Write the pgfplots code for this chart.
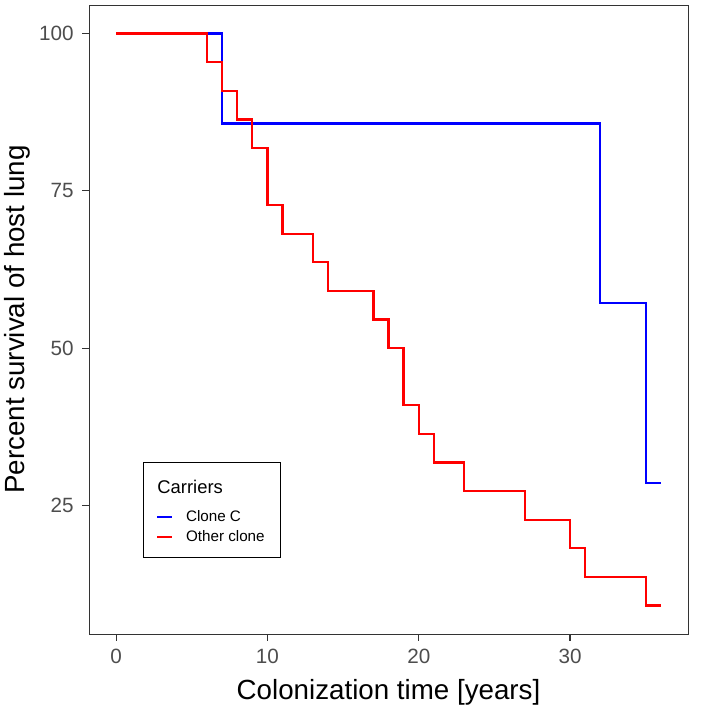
\documentclass[border=0pt]{standalone}
\usepackage{pgfplots}
\pgfplotsset{compat=1.18}
\usepackage{fontspec}
\setmainfont{Liberation Sans}
\definecolor{tickgray}{HTML}{4D4D4D}
\definecolor{tickmark}{HTML}{333333}
\definecolor{cblue}{RGB}{0,0,255}
\definecolor{cred}{RGB}{255,0,0}
\begin{document}
\begin{tikzpicture}[x=1pt,y=1pt]
\begin{axis}[
  name=ax,
  scale only axis,
  width=449.25pt, height=471.75pt,
  xmin=-1.8, xmax=37.8, ymin=4.55, ymax=104.55,
  xtick={0,10,20,30}, ytick={25,50,75,100},
  /pgf/number format/assume math mode=true,
  tick label style={font=\fontsize{15.5}{18}\selectfont, text=tickgray},
  xticklabel style={yshift=-3pt},
  yticklabel style={xshift=-3pt},
  tick align=outside, tick pos=left,
  major tick length=5pt,
  every tick/.style={draw=tickmark, line width=0.8pt},
  axis line style={draw=black!80, line width=0.6pt},
  xlabel={Colonization time [years]}, ylabel={Percent survival of host lung},
  label style={font=\fontsize{20.8}{24}\selectfont},
  xlabel style={yshift=-5pt}, ylabel style={yshift=0pt},
  legend style={at={(axis cs:1.78,31.96)}, anchor=north west, draw=black, line width=0.6pt,
    font=\fontsize{11.4}{13}\selectfont, inner xsep=9.5pt, inner ysep=8.5pt, row sep=1pt},
  legend cell align=left,
  legend image code/.code={\draw[#1, line width=1.4pt] (0pt,0pt) -- (11pt,0pt);},
]
\addlegendimage{empty legend}
\addlegendentry[text height=13pt, text depth=8pt, font=\fontsize{13.8}{16}\selectfont]{\hspace{-13.5pt}Carriers}
\addplot[const plot, draw=cblue, line width=1.7pt] coordinates {
(0,100) (7,85.71) (32,57.14) (35,28.57) (36,28.57)};
\addlegendentry{\hspace{8pt}Clone C}
\addplot[const plot, draw=cred, line width=1.7pt] coordinates {
(0,100) (6,95.45) (7,90.91) (8,86.36) (9,81.82) (10,72.73) (11,68.18) (13,63.64) (14,59.09)
(17,54.55) (18,50) (19,40.91) (20,36.36) (21,31.82) (23,27.27) (27,22.73) (30,18.18)
(31,13.64) (35,9.09) (36,9.09)};
\addlegendentry{\hspace{8pt}Other clone}
\end{axis}
\pgfresetboundingbox
\path ([xshift=-66.75pt,yshift=-56.25pt]ax.south west) rectangle ([xshift=15.75pt,yshift=3.75pt]ax.north east);
\end{tikzpicture}
\end{document}
